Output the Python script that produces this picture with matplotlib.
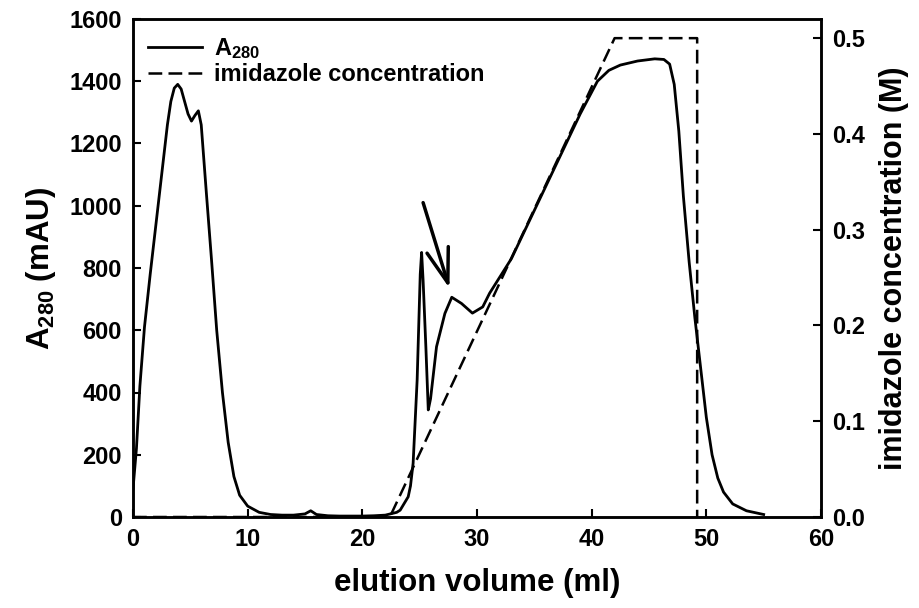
import matplotlib
matplotlib.use("Agg")
import matplotlib.pyplot as plt

plt.rcParams['font.family'] = ['Liberation Sans', 'DejaVu Sans']
plt.rcParams['font.weight'] = 'bold'
plt.rcParams['mathtext.fontset'] = 'custom'
plt.rcParams['mathtext.bf'] = 'Liberation Sans:bold'
plt.rcParams['mathtext.rm'] = 'Liberation Sans:bold'
plt.rcParams['mathtext.default'] = 'bf'

# A280 trace (ml, mAU)
vol = [0, 0.3, 0.6, 1.0, 1.5, 2.0, 2.5, 3.0, 3.3, 3.6, 3.9, 4.2, 4.5, 4.8, 5.1,
       5.4, 5.7, 5.95, 6.4, 6.85, 7.3, 7.8, 8.3, 8.8, 9.3, 10, 11, 12, 13, 14,
       15, 15.5, 16, 17, 18, 20, 21, 22, 23, 23.3, 24.0, 24.2, 24.43, 24.78,
       25.05, 25.17, 25.3, 25.54, 25.75, 25.95, 26.47, 27.2, 27.8, 28.65, 29.6,
       30.5, 31.1, 33, 35, 37, 39, 40.5, 41.5, 42.5, 44, 45.5, 46.3, 46.8,
       47.2, 47.6, 48.0, 48.5, 49.0, 49.5, 50.0, 50.5, 51.0, 51.5, 52.3, 53.5,
       55]
a280 = [90, 220, 420, 610, 780, 940, 1100, 1260, 1335, 1378, 1390, 1375, 1335,
        1295, 1272, 1290, 1305, 1260, 1040, 825, 600, 400, 240, 130, 70, 35,
        15, 8, 6, 6, 10, 20, 8, 4, 3, 3, 4, 6, 15, 22, 65, 100, 173, 440, 780,
        850, 760, 547, 344, 380, 547, 654, 706, 686, 655, 675, 719, 830, 985,
        1140, 1295, 1400, 1435, 1452, 1465, 1472, 1470, 1455, 1390, 1240, 1030,
        820, 640, 480, 320, 200, 125, 80, 42, 20, 8]

# imidazole gradient (ml, M)
imid_vol = [0, 22.4, 42.0, 49.2, 49.2]
imid_conc = [0, 0, 0.5, 0.5, 0]

fig = plt.figure(figsize=(9.2, 6.08), dpi=100)
ax = fig.add_axes([133 / 920, 1 - 517 / 608, (821 - 133) / 920, (517 - 19) / 608])
ax2 = ax.twinx()

ax.plot(vol, a280, color='black', lw=2.0, label='A$_{280}$')
ax2.plot(imid_vol, imid_conc, color='black', lw=1.8, dashes=(5.5, 2.5))
ax.plot([], [], color='black', lw=1.8, dashes=(5.5, 2.5),
        label='imidazole concentration')

ax.set_xlim(0, 60)
ax.set_ylim(0, 1600)
ax2.set_ylim(0, 0.52)
ax.set_xticks(range(0, 61, 10))
ax.set_yticks(range(0, 1601, 200))
ax2.set_yticks([0, 0.1, 0.2, 0.3, 0.4, 0.5])
ax2.set_yticklabels(['0.0', '0.1', '0.2', '0.3', '0.4', '0.5'])

for a in (ax, ax2):
    a.tick_params(direction='in', length=6, width=1.5, labelsize=17, pad=8)
    for s in a.spines.values():
        s.set_linewidth(1.8)

ax.set_xlabel('elution volume (ml)', fontsize=22.5, fontweight='bold', labelpad=12)
ax.set_ylabel('A$_{280}$ (mAU)', fontsize=22.5, fontweight='bold', labelpad=8)
ax2.set_ylabel('imidazole concentration (M)', fontsize=22, fontweight='bold',
               labelpad=10)

ax.annotate('', xy=(27.6, 735), xytext=(25.3, 1010),
            arrowprops=dict(arrowstyle='->,head_length=0.62,head_width=0.2',
                            lw=2.5, color='black', mutation_scale=40,
                            shrinkA=0, shrinkB=0))

ax.legend(loc='upper left', bbox_to_anchor=(0.015, 0.975), frameon=False,
          fontsize=17, handlelength=2.3, handletextpad=0.5, labelspacing=0.1,
          borderaxespad=0, borderpad=0.2)

fig.savefig('out.png', dpi=100)
